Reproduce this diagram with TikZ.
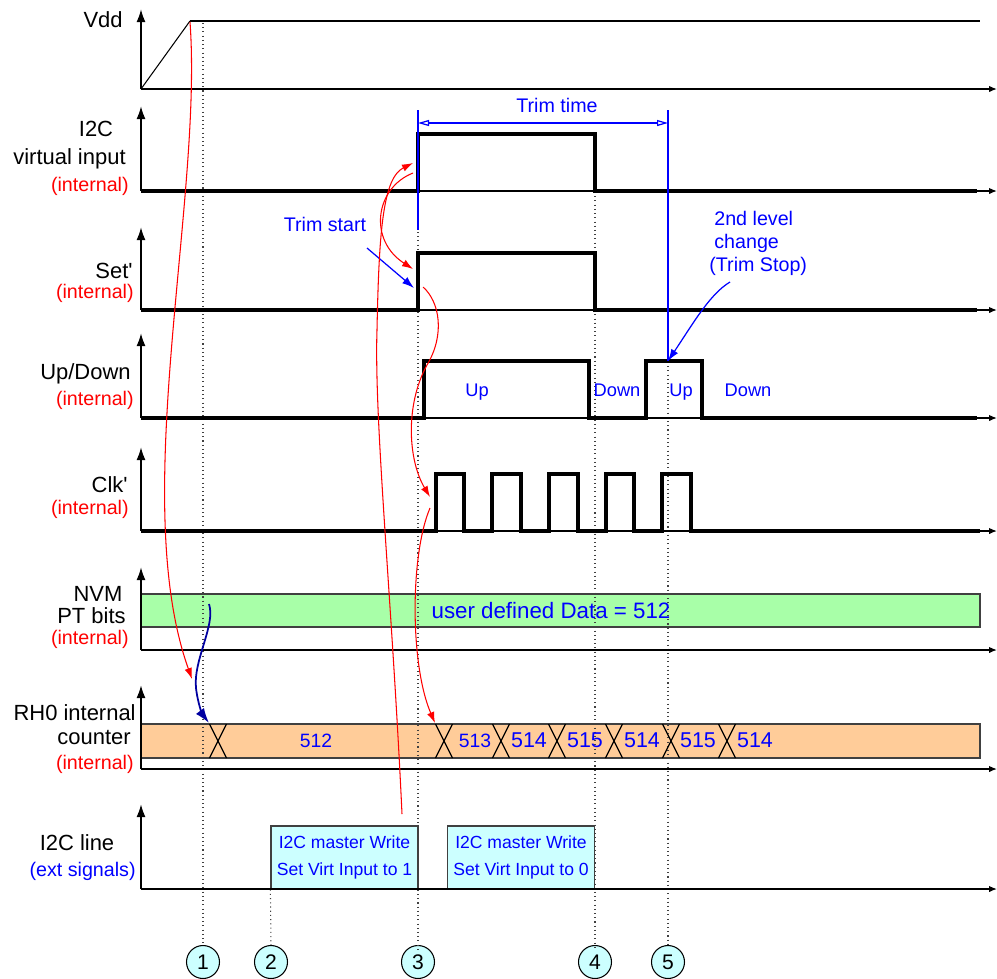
\documentclass[tikz,border=0pt]{standalone}
\usepackage{fontspec}
\setmainfont{Liberation Sans}
\usetikzlibrary{arrows.meta}

\definecolor{nvmgreen}{RGB}{168,255,168}
\definecolor{cntorange}{RGB}{255,204,153}
\definecolor{buscyan}{RGB}{204,255,255}
\definecolor{loadblue}{RGB}{0,0,160}

\begin{document}
\begin{tikzpicture}[
  x=0.02cm, y=-0.02cm,
  txt/.style={inner sep=0pt, text height=0.716em, text depth=0pt},
  lbl/.style={txt, anchor=east, font=\fontsize{12.5}{14}\selectfont},
  intl/.style={txt, anchor=east, text=red, font=\fontsize{11.2}{13}\selectfont},
  note/.style={txt, text=blue, font=\fontsize{11.2}{13}\selectfont},
  lvl/.style={txt, text=blue, font=\fontsize{10.4}{12}\selectfont},
  cnt/.style={txt, text=blue, font=\fontsize{12.2}{14}\selectfont},
  axis/.style={line width=1.1pt, -{Latex[length=2.6mm, width=1.8mm]}},
  base/.style={line width=0.8pt, -{Latex[length=1.6mm, width=1.3mm]}},
  sig/.style={line width=1.8pt},
  guide/.style={black!75, line width=0.6pt, dash pattern=on 0.6pt off 1.8pt},
  cause/.style={red, line width=0.6pt, -{Latex[length=2.2mm, width=1.5mm]}},
  load/.style={loadblue, line width=1pt, -{Latex[length=3mm, width=2mm]}},
  trim/.style={blue, line width=0.7pt},
  trimarr/.style={trim, -{Latex[length=2.4mm, width=1.6mm]}},
  dimarr/.style={trim, {Triangle[open, length=2.2mm, width=1.2mm]}-{Triangle[open, length=2.2mm, width=1.2mm]}},
  databox/.style={draw=black!75, line width=0.7pt},
  busbox/.style={draw=black!75, fill=buscyan, line width=0.7pt, align=center,
                 minimum width=2.94cm, minimum height=1.26cm, inner sep=0pt,
                 text=blue, font=\fontsize{10}{15.3}\selectfont},
  stepno/.style={circle, draw, fill=buscyan, line width=0.6pt, minimum size=0.66cm,
                 inner sep=0pt, font=\fontsize{12}{14}\selectfont},
]
\useasboundingbox (0,0) rectangle (997,978);

% ---- value boxes -----------------------------------------------------
\draw[databox, fill=nvmgreen] (141,594) rectangle (980,627);
\draw[databox, fill=cntorange] (141,724) rectangle (980,758);
\node[busbox] (wr1) at (344.5,857.5) {I2C master Write\\Set Virt Input to 1};
\node[busbox] (wr0) at (521,857.5)   {I2C master Write\\Set Virt Input to 0};

% ---- step markers ----------------------------------------------------
\node[stepno] (s1) at (203,962) {1};
\node[stepno] (s2) at (271,962) {2};
\node[stepno] (s3) at (418,962) {3};
\node[stepno] (s4) at (595,962) {4};
\node[stepno] (s5) at (668,962) {5};

\draw[guide] (203,23) -- (s1.north);
\draw[guide] (wr1.south west) -- (s2.north);
\draw[guide] (418,232) -- ([yshift=-0.14cm]s3.north);
\draw[guide] (595,192) -- ([yshift=-0.1cm]s4.north);
\draw[guide] (668,362) -- (s5.north);

% ---- axes ------------------------------------------------------------
\draw[axis] (141,89)  -- (141,9);
\draw[axis] (141,191) -- (141,106);
\draw[axis] (141,310) -- (141,227);
\draw[axis] (141,418) -- (141,333);
\draw[axis] (141,531) -- (141,447);
\draw[axis] (141,650) -- (141,567);
\draw[axis] (141,769) -- (141,685);
\draw[axis] (141,889) -- (141,804);

\draw[base] (141,89)  -- (997,89);
\draw[base] (141,191) -- (997,191);
\draw[base] (141,310) -- (997,310);
\draw[base] (141,418) -- (997,418);
\draw[base] (141,531) -- (997,531);
\draw[base] (141,650) -- (997,650);
\draw[base] (141,769) -- (997,769);
\draw[base] (141,889) -- (997,889);

% ---- signals ---------------------------------------------------------
\draw[line width=0.6pt] (141,89) -- (190,21);
\draw[line width=1.1pt] (190,21) -- (980,21);
\draw[sig] (141,191) -- (418,191) -- (418,134) -- (595,134) -- (595,191) -- (977,191);
\draw[sig] (141,310) -- (418,310) -- (418,253) -- (595,253) -- (595,310) -- (977,310);
\draw[sig] (141,418) -- (424,418) -- (424,361) -- (589,361) -- (589,418)
           -- (646,418) -- (646,361) -- (702,361) -- (702,418) -- (977,418);
\draw[sig] (141,531) -- (436,531) -- (436,474) -- (464,474) -- (464,531)
           -- (492,531) -- (492,474) -- (521,474) -- (521,531)
           -- (549,531) -- (549,474) -- (578,474) -- (578,531)
           -- (606,531) -- (606,474) -- (634,474) -- (634,531)
           -- (662,531) -- (662,474) -- (691,474) -- (691,531) -- (980,531);

% counter transitions
\draw[line width=0.7pt] (209.5,724) -- (226.5,758) (209.5,758) -- (226.5,724);
\draw[line width=0.7pt] (435.5,724) -- (452.5,758) (435.5,758) -- (452.5,724);
\draw[line width=0.7pt] (492.5,724) -- (509.5,758) (492.5,758) -- (509.5,724);
\draw[line width=0.7pt] (548.5,724) -- (565.5,758) (548.5,758) -- (565.5,724);
\draw[line width=0.7pt] (605.5,724) -- (622.5,758) (605.5,758) -- (622.5,724);
\draw[line width=0.7pt] (662.5,724) -- (679.5,758) (662.5,758) -- (679.5,724);
\draw[line width=0.7pt] (718.5,724) -- (735.5,758) (718.5,758) -- (735.5,724);

% ---- signal names ----------------------------------------------------
\node[lbl] (vdd) at (123,21) {Vdd};
\node[lbl, anchor=center] (vin1) at (96,130) {I2C};
\node[lbl] (vin2) at (126,158) {virtual input};
\node[intl] (vin3) at (129,185) {(internal)};
\node[lbl] (set1) at (133,272) {Set\textquotesingle};
\node[intl] (set2) at (134,292) {(internal)};
\node[lbl] (ud1) at (131,373) {Up/Down};
\node[intl] (ud2) at (134,399) {(internal)};
\node[lbl] (clk1) at (128,486) {Clk\textquotesingle};
\node[intl] (clk2) at (129,508) {(internal)};
\node[lbl, anchor=center] (nvm1) at (98,595) {NVM};
\node[lbl] (nvm2) at (126,617) {PT bits};
\node[intl] (nvm3) at (129,638) {(internal)};
\node[lbl] (rh1) at (136,714) {RH0 internal};
\node[lbl] (rh2) at (131,738) {counter};
\node[intl] (rh3) at (134,763) {(internal)};
\node[lbl, anchor=center] (bus1) at (77,844) {I2C line};
\node[intl, text=blue] (bus2) at (136,870) {(ext signals)};

% ---- values ----------------------------------------------------------
\node[lvl] (up1) at (477,390) {Up};
\node[lvl] (dn1) at (617,390) {Down};
\node[lvl] (up2) at (681,390) {Up};
\node[lvl] (dn2) at (748,390) {Down};
\node[txt, text=blue, font=\fontsize{12.7}{15}\selectfont] (nvmval) at (551,612) {user defined Data = 512};
\node[cnt, font=\fontsize{11}{13}\selectfont] (c512) at (316,741) {512};
\node[cnt, font=\fontsize{11}{13}\selectfont] (c513) at (475,741) {513};
\node[cnt] (c514a) at (529,741) {514};
\node[cnt] (c515a) at (585,741) {515};
\node[cnt] (c514b) at (642,741) {514};
\node[cnt] (c515b) at (698,741) {515};
\node[cnt] (c514c) at (755,741) {514};

% ---- trim window -----------------------------------------------------
\coordinate (tbeg) at (418,110);
\coordinate (tend) at (668,110);
\draw[trim] (tbeg) -- (418,230);
\draw[trim] (tend) -- (668,361);
\draw[dimarr] (418,123) -- (668,123);
\node[note] (ttime) at (557,106) {Trim time};
\node[note] (tstart) at (325,225) {Trim start};
\node[note, text height=, align=left, anchor=north west] (tstop) at (709,211)
  {\hspace*{0.1cm}2nd level\\\hspace*{0.1cm}change\\(Trim Stop)};
\draw[trimarr] (367,248) -- (414,288);
\draw[trimarr] (730,282) .. controls (710,294) and (694,322) .. (668,361);

% ---- cause and effect ------------------------------------------------
\draw[cause] (190,22) .. controls (203,200) and (128,500) .. (192,679);
\draw[cause] (402,814) .. controls (392,600) and (374,420) .. (377,330)
             .. controls (379,230) and (383,178) .. (413,163);
\draw[cause] (413,173) .. controls (375,188) and (368,240) .. (413,269);
\draw[cause] (423,287) .. controls (440,302) and (445,335) .. (427,365)
             .. controls (405,405) and (408,460) .. (430,497);
\draw[cause] (430,508) .. controls (410,555) and (410,665) .. (435,723);
\draw[load] (209,604) .. controls (216,625) and (193,660) .. (196,688)
            .. controls (198,705) and (203,715) .. (209,723);

\end{tikzpicture}
\end{document}
